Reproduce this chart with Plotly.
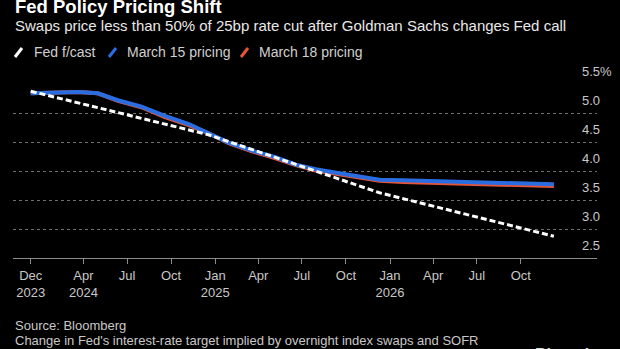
import plotly.graph_objects as go

# ---------------- data ----------------
pricing_dates = [
    "2023-12-13", "2024-01-31", "2024-03-20", "2024-05-01", "2024-06-12",
    "2024-07-31", "2024-09-18", "2024-11-07", "2024-12-18", "2025-01-29",
    "2025-03-19", "2025-05-07", "2025-06-18", "2025-07-30", "2025-09-17",
    "2025-10-29", "2025-12-10", "2026-01-28", "2026-03-18", "2026-04-29",
    "2026-06-17", "2026-07-29", "2026-09-16", "2026-10-28", "2026-12-09",
]
march15 = [5.34, 5.35, 5.36, 5.34, 5.22, 5.11, 4.95, 4.81, 4.66, 4.49,
           4.35, 4.24, 4.11, 4.03, 3.96, 3.91, 3.85, 3.84, 3.83, 3.82,
           3.81, 3.80, 3.79, 3.78, 3.77]
march18 = [5.34, 5.35, 5.36, 5.34, 5.21, 5.10, 4.93, 4.79, 4.65, 4.48,
           4.34, 4.22, 4.10, 4.01, 3.94, 3.89, 3.83, 3.81, 3.80, 3.79,
           3.78, 3.77, 3.76, 3.75, 3.74]

fcast_dates = ["2023-12-13", "2024-12-18", "2025-12-10", "2026-12-09"]
fed_fcast = [5.375, 4.625, 3.625, 2.875]

x_tickvals = ["2023-12-13", "2024-04-01", "2024-07-01", "2024-10-01",
              "2025-01-01", "2025-04-01", "2025-07-01", "2025-10-01",
              "2026-01-01", "2026-04-01", "2026-07-01", "2026-10-01"]
x_ticktext = ["Dec<br>2023", "Apr<br>2024", "Jul", "Oct", "Jan<br>2025", "Apr",
              "Jul", "Oct", "Jan<br>2026", "Apr", "Jul", "Oct"]
y_tickvals = [5.5, 5.0, 4.5, 4.0, 3.5, 3.0, 2.5]
y_ticktext = ["5.5%", "5.0", "4.5", "4.0", "3.5", "3.0", "2.5"]

series_names = ["Fed f/cast", "March 15 pricing", "March 18 pricing"]
series_colors = ["#ffffff", "#2a6de0", "#e5553a"]

title = "Fed Policy Pricing Shift"
subtitle = "Swaps price less than 50% of 25bp rate cut after Goldman Sachs changes Fed call"
source = "Source: Bloomberg"
note = "Change in Fed's interest-rate target implied by overnight index swaps and SOFR"

# ---------------- layout helpers ----------------
W, H = 620, 349
ML, MR, MT, MB = 13, 23, 84, 91
PW = W - ML - MR
PH = H - MT - MB


def px_x(x):
    return (x - ML) / PW


def px_y(y):
    return (H - MB - y) / PH


FONT = "Liberation Sans, Arial, sans-serif"

fig = go.Figure()
fig.add_trace(go.Scatter(x=pricing_dates, y=march18, mode="lines",
                         line=dict(color=series_colors[2], width=4),
                         name=series_names[2], showlegend=False))
fig.add_trace(go.Scatter(x=pricing_dates, y=march15, mode="lines",
                         line=dict(color=series_colors[1], width=4),
                         name=series_names[1], showlegend=False))
fig.add_trace(go.Scatter(x=fcast_dates, y=fed_fcast, mode="lines",
                         line=dict(color=series_colors[0], width=3, dash="6px,3px"),
                         name=series_names[0], showlegend=False))

annotations = []
shapes = []

# title / subtitle
annotations.append(dict(text="<b>" + title + "</b>", xref="paper", yref="paper",
                        x=px_x(13), y=px_y(6.5), xanchor="left", yanchor="middle",
                        showarrow=False, font=dict(family=FONT, size=18.5, color="#ffffff")))
annotations.append(dict(text=subtitle, xref="paper", yref="paper",
                        x=px_x(13), y=px_y(25), xanchor="left", yanchor="middle",
                        showarrow=False, font=dict(family=FONT, size=15, color="#e8e8e8")))

# legend
leg_icon_x = [15, 109, 241]
leg_text_x = [31.5, 124.5, 257]
for name, col, ix, tx in zip(series_names, series_colors, leg_icon_x, leg_text_x):
    shapes.append(dict(type="line", xref="paper", yref="paper",
                       x0=px_x(ix), y0=px_y(57), x1=px_x(ix + 7), y1=px_y(48),
                       line=dict(color=col, width=3)))
    annotations.append(dict(text=name, xref="paper", yref="paper",
                            x=px_x(tx), y=px_y(52.5), xanchor="left", yanchor="middle",
                            showarrow=False, font=dict(family=FONT, size=14, color="#d0d0d0")))

# y tick labels above the gridlines
for v, t in zip(y_tickvals, y_ticktext):
    annotations.append(dict(text=t, xref="paper", yref="y", x=px_x(580), y=v,
                            xanchor="left", yanchor="middle", yshift=13,
                            showarrow=False, font=dict(family=FONT, size=13, color="#c8c8c8")))

# footer
annotations.append(dict(text=source, xref="paper", yref="paper",
                        x=px_x(13), y=px_y(325), xanchor="left", yanchor="middle",
                        showarrow=False, font=dict(family=FONT, size=13, color="#c8c8c8")))
annotations.append(dict(text=note, xref="paper", yref="paper",
                        x=px_x(13), y=px_y(340), xanchor="left", yanchor="middle",
                        showarrow=False, font=dict(family=FONT, size=13, color="#c8c8c8")))
annotations.append(dict(text="<b>Bloomberg</b>", xref="paper", yref="paper",
                        x=px_x(533), y=px_y(344), xanchor="left", yanchor="top",
                        showarrow=False, font=dict(family=FONT, size=16, color="#dddddd")))

fig.update_layout(
    width=W, height=H,
    margin=dict(l=ML, r=MR, t=MT, b=MB, pad=0),
    paper_bgcolor="#000000", plot_bgcolor="#000000",
    showlegend=False,
    font=dict(family=FONT, size=13, color="#c8c8c8"),
    annotations=annotations, shapes=shapes,
    xaxis=dict(type="date", range=["2023-11-06", "2027-03-09"],
               tickmode="array", tickvals=x_tickvals, ticktext=x_ticktext,
               ticks="outside", ticklen=5, tickcolor="#8c8c8c", tickwidth=1,
               showline=True, linecolor="#8c8c8c", linewidth=1,
               showgrid=False, zeroline=False,
               tickfont=dict(family=FONT, size=13, color="#c8c8c8")),
    yaxis=dict(range=[2.5, 5.5], tickmode="array", tickvals=y_tickvals,
               showticklabels=False, ticks="", showline=False, zeroline=False,
               showgrid=True, gridcolor="#6e6e6e", gridwidth=1, griddash="dot"),
)

fig.write_html("out.html")
